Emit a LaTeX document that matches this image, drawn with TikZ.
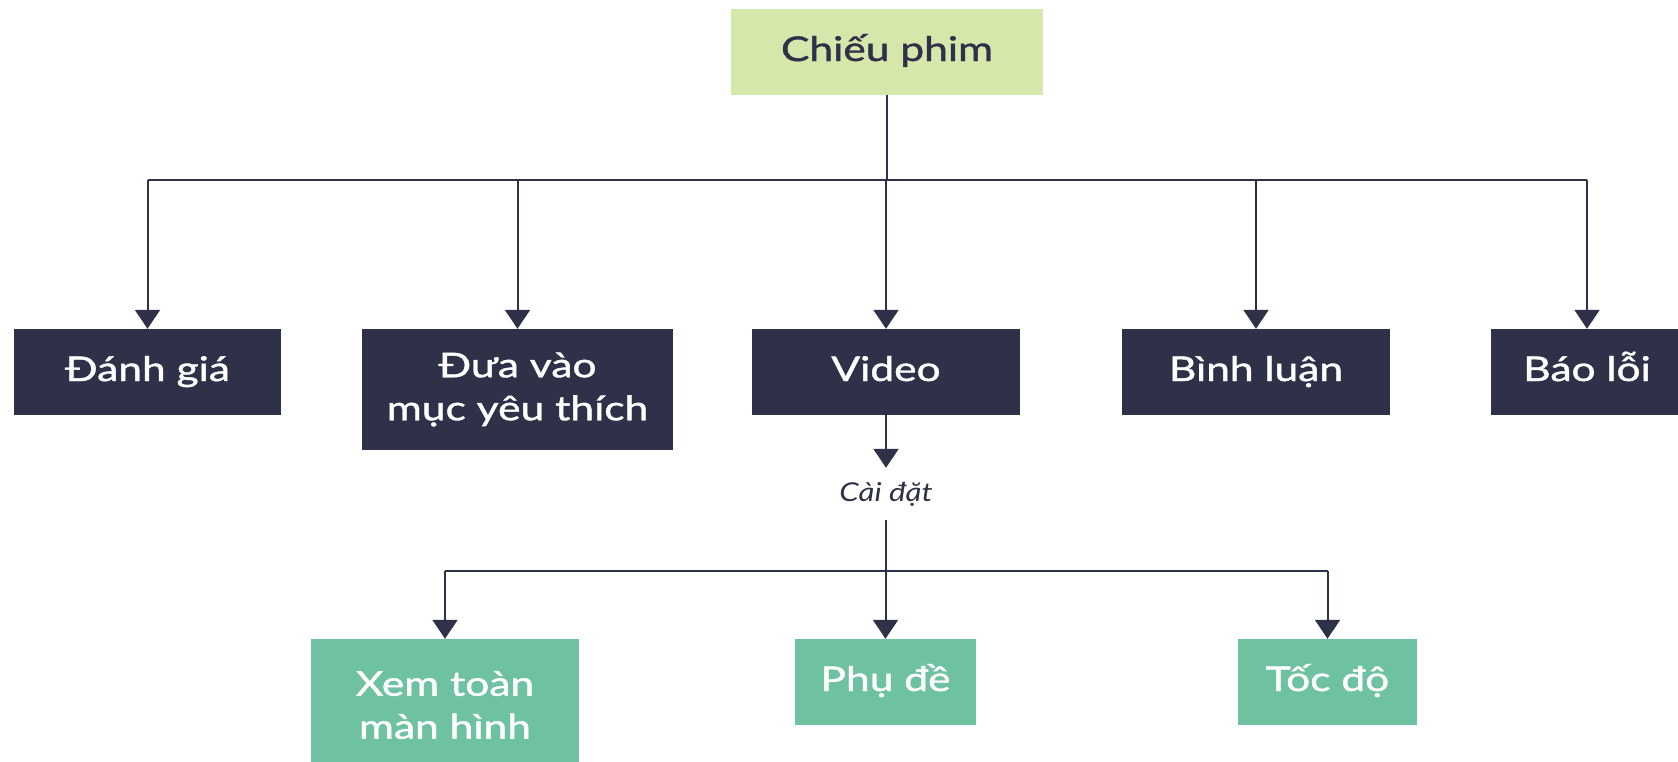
\documentclass[tikz,border=0pt]{standalone}
\usepackage{fontspec}
\setmainfont{Lato}[FakeStretch=1.25, FakeBold=1.2]
\newfontfamily\lblfont{Lato}[FakeStretch=1.2]
\usetikzlibrary{arrows.meta}
\definecolor{navy}{HTML}{2F3149}
\definecolor{lime}{HTML}{D5E7AA}
\definecolor{tealbox}{HTML}{6EC1A1}
\begin{document}
\begin{tikzpicture}[x=1pt,y=-1pt,
  box/.style={rectangle, inner sep=0pt, align=center, font=\fontsize{34}{43}\selectfont},
  oneline/.style={text height=25pt, text depth=7pt},
  topbox/.style={box, oneline, fill=lime, text=navy, minimum width=312pt, minimum height=86pt},
  darkbox/.style={box, fill=navy, text=white, minimum height=86pt},
  greenbox/.style={box, fill=tealbox, text=white, minimum height=86pt},
  ln/.style={line width=2pt, draw=navy},
  arr/.style={ln, -{Triangle[width=25pt,length=19pt]}},
  lbl/.style={inner sep=0pt, font=\lblfont\fontsize{26}{30}\selectfont\itshape, text=navy, minimum height=52pt}
]
\useasboundingbox (0,0) rectangle (1678,761);
\fill[white] (0,0) rectangle (1678,761);

\node[topbox] (top) at (887,52) {Chiếu phim};

\node[darkbox, oneline, minimum width=267pt] (dg) at (147.5,372) {Đánh giá};
\node[darkbox, minimum width=311pt, minimum height=121pt] (dv) at (517.5,389.5) {Đưa vào\\mục yêu thích};
\node[darkbox, oneline, minimum width=268pt] (vid) at (886,372) {Video};
\node[darkbox, oneline, minimum width=268pt] (bl) at (1256,372) {Bình luận};
\node[darkbox, oneline, minimum width=192pt] (bao) at (1587,372) {Báo lỗi};

\node[lbl] (cai) at (886,494) {Cài đặt};

\node[greenbox, minimum width=268pt, minimum height=132pt] (xem) at (445,705) {Xem toàn\\màn hình};
\node[greenbox, oneline, minimum width=181pt] (phu) at (885.5,682) {Phụ đề};
\node[greenbox, oneline, minimum width=179pt] (toc) at (1327.5,682) {Tốc độ};

\coordinate (bus) at (887,180);
\coordinate (bus2) at (886,571);

\draw[ln] (top.south) -- (bus);
\draw[ln] (bus -| dg) -- (bus -| bao);
\draw[arr] (bus -| dg) -- (dg.north);
\draw[arr] (bus -| dv) -- (dv.north);
\draw[arr] (bus -| vid) -- (vid.north);
\draw[arr] (bus -| bl) -- (bl.north);
\draw[arr] (bus -| bao) -- (bao.north);

\draw[arr] (vid.south) -- (cai.north);
\draw[ln] (cai.south) -- (bus2);
\draw[ln] (bus2 -| xem) -- (bus2 -| toc);
\draw[arr] (bus2 -| xem) -- (xem.north);
\draw[arr] (bus2 -| phu) -- (phu.north);
\draw[arr] (bus2 -| toc) -- (toc.north);
\end{tikzpicture}
\end{document}
